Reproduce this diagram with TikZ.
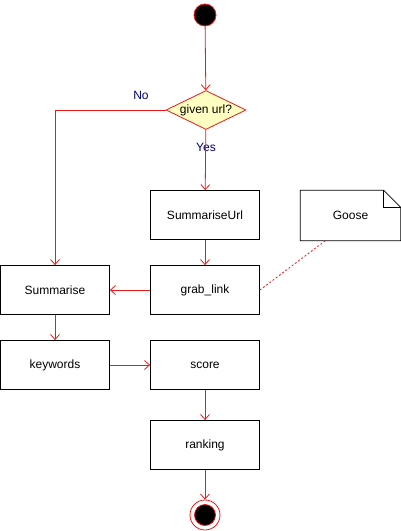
\documentclass[tikz,border=0pt]{standalone}
\usepackage{fontspec}
\setmainfont{Liberation Sans}
\usepackage{xcolor}
\definecolor{flowred}{rgb}{0.93,0.1,0.1}
\definecolor{decfill}{rgb}{1,1,0.76}
\definecolor{guardblue}{rgb}{0,0,0.4}
\usetikzlibrary{arrows.meta,shapes.geometric}

\begin{document}
\begin{tikzpicture}[x=1pt,y=-1pt,
	act/.style={draw, line width=0.8pt, minimum width=109pt, minimum height=49pt, inner sep=0pt, font=\fontsize{12}{14}\selectfont},
	decision/.style={diamond, draw=flowred, fill=decfill, line width=0.8pt, minimum width=80pt, minimum height=39pt, inner sep=0pt},
	guard/.style={text=guardblue, inner sep=0pt, font=\fontsize{12}{14}\selectfont},
	flow/.style={draw=flowred, line width=0.8pt, -{Straight Barb[length=5pt,width=9pt]}},
	startnode/.style={circle, draw=flowred, fill=black, line width=0.8pt, minimum size=22pt, inner sep=0pt},
	endnode/.style={circle, draw=flowred, fill=white, line width=0.8pt, minimum size=30pt, inner sep=0pt}]
	\useasboundingbox (0,0) rectangle (401,531);
	\node[startnode] (start) at (205,15) {};
	\node[decision, label={[font=\fontsize{12}{14}\selectfont, inner sep=0pt]center:given url?}] (given) at (206,110) {};
	\node[guard] (no) at (141,95) {No};
	\node[guard] (yes) at (206,147) {Yes};
	\node[act] (summariseurl) at (205,215) {SummariseUrl};
	\node[act] (grablink) at (205,290) {grab\_link};
	\node[act] (summarise) at (55,290) {Summarise};
	\node[act] (keywords) at (55,365) {keywords};
	\node[act] (score) at (205,365) {score};
	\node[act] (ranking) at (205,445) {ranking};
	\node[endnode] (stop) at (205,515) {};
	\draw [draw=flowred, fill=black, line width=0.8pt] (stop.center) circle (10.5pt);
	\node[minimum width=100pt, minimum height=50pt, inner sep=0pt, font=\fontsize{12}{14}\selectfont] (goose) at (350.5,215.5) {Goose};
	\draw [line width=0.8pt] (goose.north west) -- ([xshift=-17pt]goose.north east) -- ([yshift=-17pt]goose.north east) -- (goose.south east) -- (goose.south west) -- cycle;
	\draw [line width=0.8pt] ([xshift=-17pt]goose.north east) |- ([yshift=-17pt]goose.north east);
	\draw [flow] (start) -- (given);
	\draw [flow] (given.west) -| (summarise.north);
	\draw [flow] (given) -- (summariseurl);
	\draw [flow] (summariseurl) -- (grablink);
	\draw [flow] (grablink) -- (summarise);
	\draw [flow] (summarise) -- (keywords);
	\draw [flow] (keywords) -- (score);
	\draw [flow] (score) -- (ranking);
	\draw [flow] (ranking) -- (stop);
	\draw [draw=flowred, line width=0.8pt, dashed, dash pattern=on 2pt off 2pt] ([xshift=25pt]goose.south west) -- (grablink.east);
\end{tikzpicture}
\end{document}
